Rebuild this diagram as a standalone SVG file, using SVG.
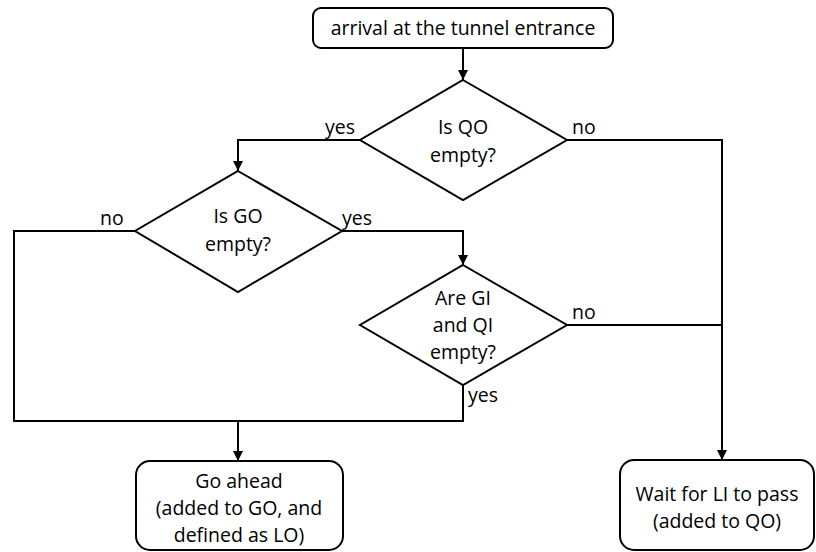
<svg xmlns="http://www.w3.org/2000/svg" width="816" height="552" viewBox="0 0 816 552">
  <style>
    .box { fill: #fff; stroke: #000; stroke-width: 2; }
    .dia { fill: #fff; stroke: #000; stroke-width: 2; stroke-linejoin: miter; }
    .wire { fill: none; stroke: #000; stroke-width: 2; }
    text { font-family: "Open Sans", Lato, "Liberation Sans", sans-serif; font-size: 19.5px; fill: #000; }
    .c { text-anchor: middle; }
  </style>
  <defs>
    <marker id="arrow" viewBox="0 0 10 10" refX="10" refY="5" markerWidth="5" markerHeight="5" markerUnits="strokeWidth" orient="auto">
      <path d="M0,0 L10,5 L0,10 Z" fill="#000"/>
    </marker>
  </defs>

  <!-- connectors -->
  <g id="connectors">
    <path class="wire" d="M463,48 V80" marker-end="url(#arrow)"/>
    <path class="wire" d="M360,140 H238 V171" marker-end="url(#arrow)"/>
    <path class="wire" d="M567,140 H722 V460" marker-end="url(#arrow)"/>
    <path class="wire" d="M342,231 H463 V265" marker-end="url(#arrow)"/>
    <path class="wire" d="M567,325 H722"/>
    <path class="wire" d="M135,231 H14 V421 H463 V385"/>
    <path class="wire" d="M238,421 V461" marker-end="url(#arrow)"/>
    <text x="325" y="134">yes</text>
    <text x="572" y="134">no</text>
    <text x="100" y="225">no</text>
    <text x="342" y="225">yes</text>
    <text x="572" y="319">no</text>
    <text x="468" y="402">yes</text>
  </g>

  <g id="start">
    <rect class="box" x="313" y="8" width="300" height="40" rx="8"/>
    <text class="c" x="463" y="35">arrival at the tunnel entrance</text>
  </g>

  <g id="is-qo-empty">
    <polygon class="dia" points="463,80 567,140 463,200 360,140"/>
    <text class="c" x="463" y="134">Is QO</text>
    <text class="c" x="463" y="162">empty?</text>
  </g>

  <g id="is-go-empty">
    <polygon class="dia" points="238,171 342,231 238,292 135,231"/>
    <text class="c" x="238" y="223">Is GO</text>
    <text class="c" x="238" y="251">empty?</text>
  </g>

  <g id="are-gi-qi-empty">
    <polygon class="dia" points="463,265 567,325 463,385 360,325"/>
    <text class="c" x="463" y="305">Are GI</text>
    <text class="c" x="463" y="332">and QI</text>
    <text class="c" x="463" y="359">empty?</text>
  </g>

  <g id="go-ahead">
    <rect class="box" x="136" y="461" width="207" height="89" rx="14"/>
    <text class="c" x="239" y="488">Go ahead</text>
    <text class="c" x="239" y="515">(added to GO, and</text>
    <text class="c" x="239" y="542">defined as LO)</text>
  </g>

  <g id="wait">
    <rect class="box" x="620" y="460" width="194" height="90" rx="14"/>
    <text class="c" x="717" y="501">Wait for LI to pass</text>
    <text class="c" x="717" y="528">(added to QO)</text>
  </g>
</svg>
